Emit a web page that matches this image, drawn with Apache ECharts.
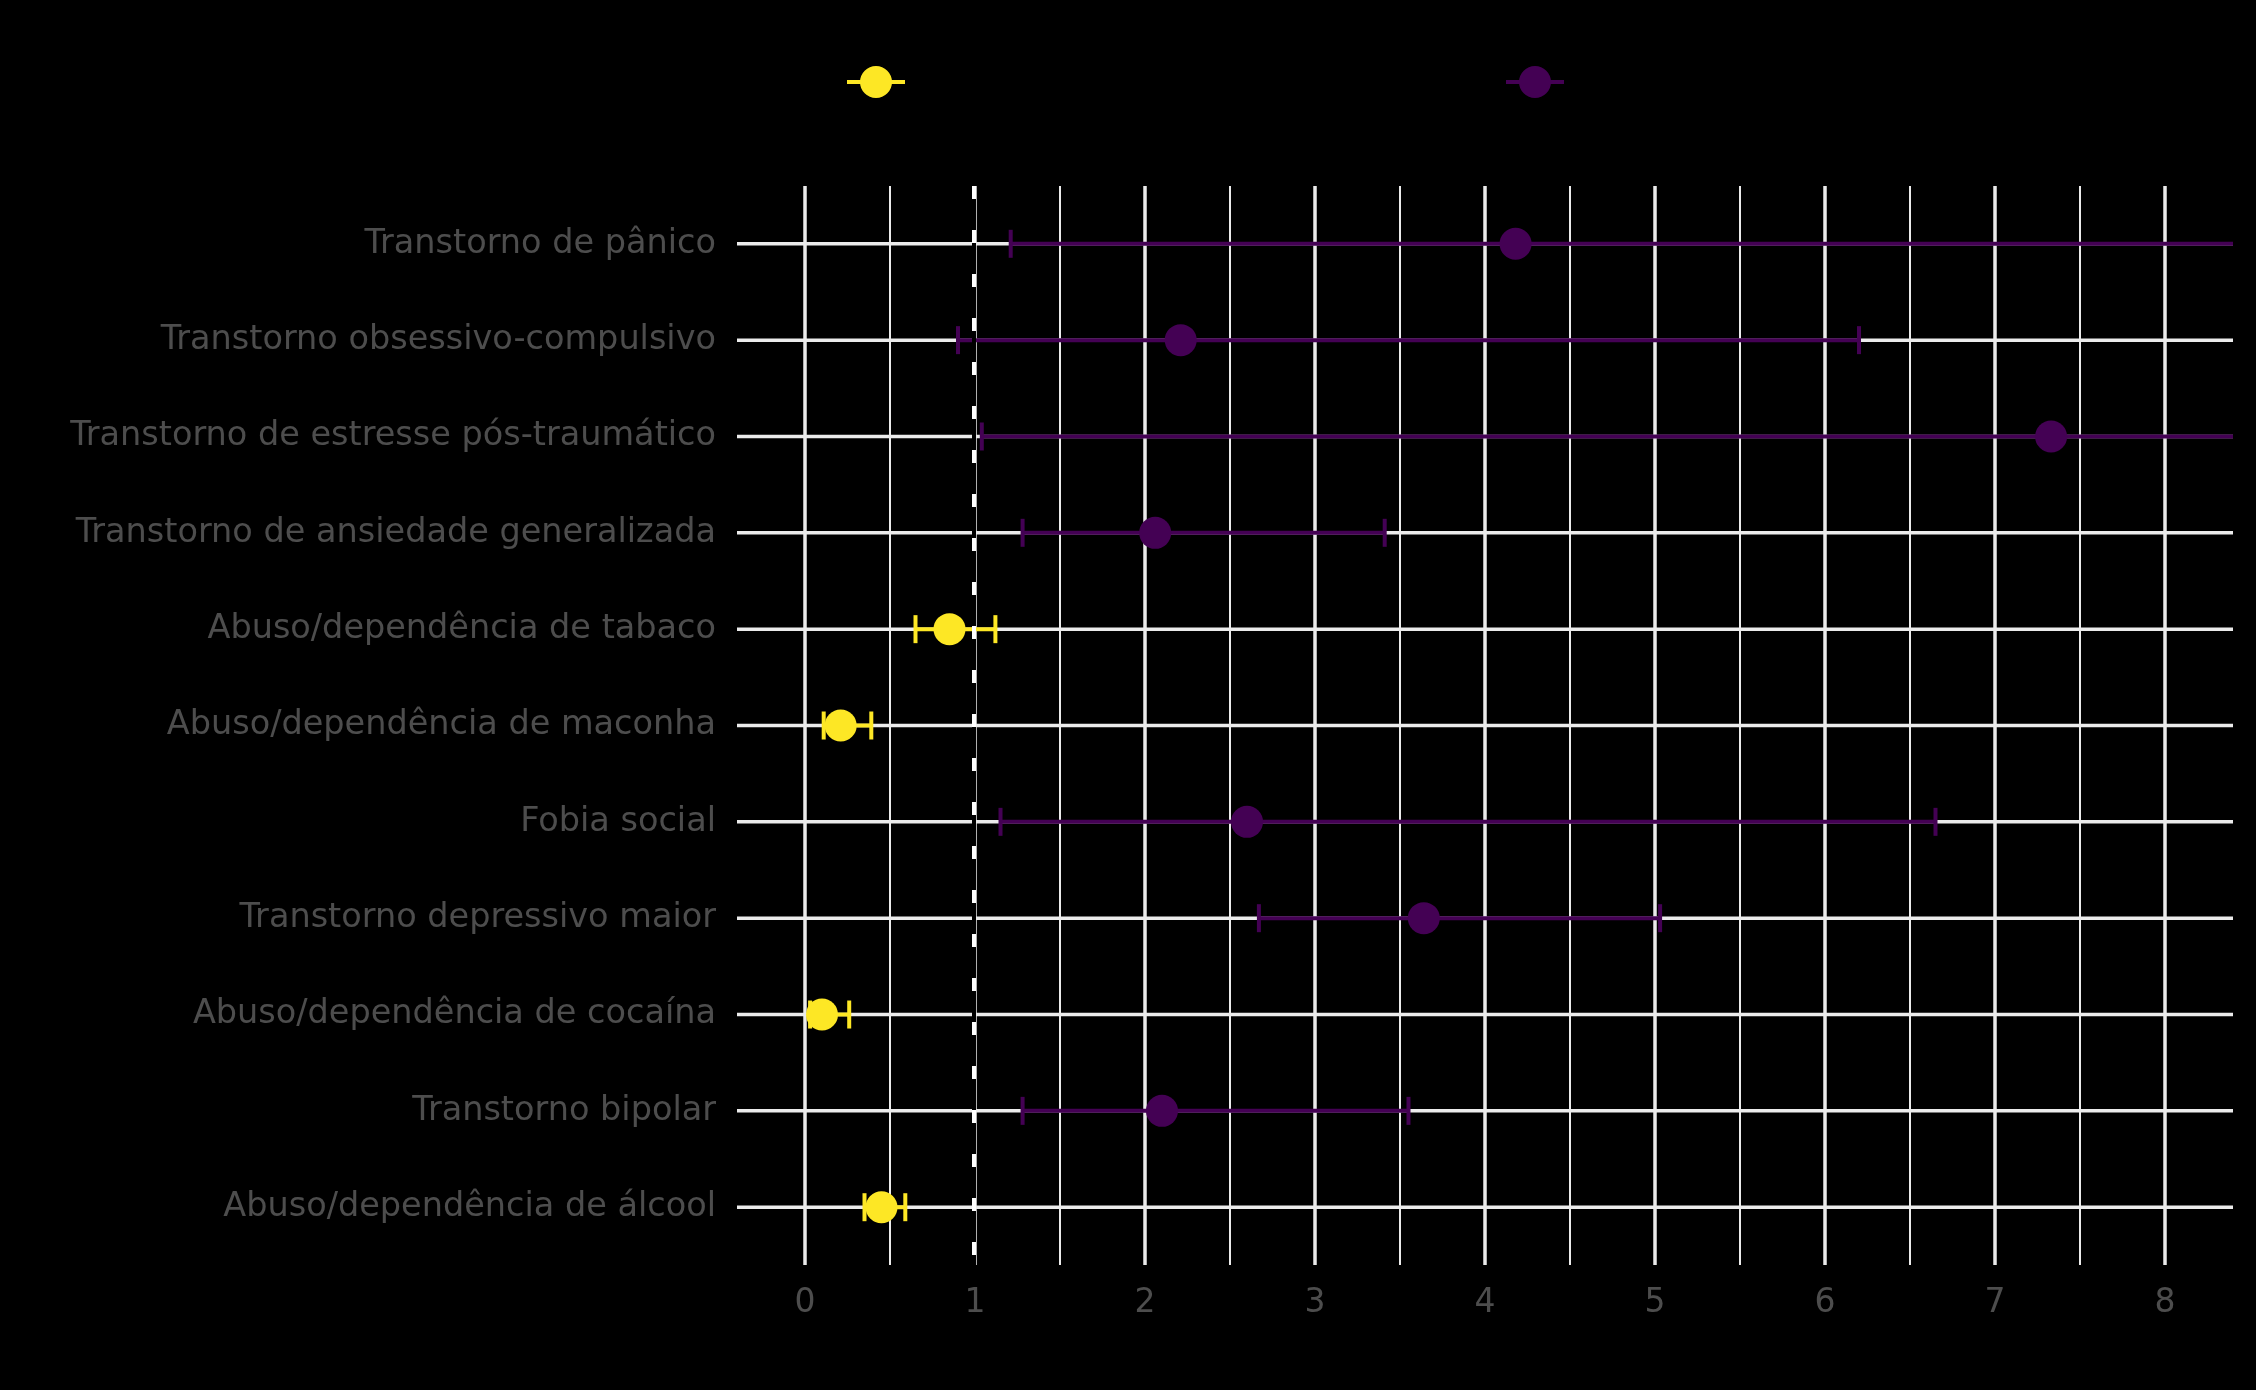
<!DOCTYPE html>
<html>
<head>
<meta charset="utf-8">
<script src="https://cdn.jsdelivr.net/npm/echarts@6/dist/echarts.min.js"></script>
<style>
  html, body { margin: 0; padding: 0; background: #000; }
  #chart { width: 2256px; height: 1390px; }
</style>
</head>
<body>
<div id="chart"></div>
<script>
// ---- Data (bottom to top) ----
const categories = [
  "Abuso/dependência de álcool",
  "Transtorno bipolar",
  "Abuso/dependência de cocaína",
  "Transtorno depressivo maior",
  "Fobia social",
  "Abuso/dependência de maconha",
  "Abuso/dependência de tabaco",
  "Transtorno de ansiedade generalizada",
  "Transtorno de estresse pós-traumático",
  "Transtorno obsessivo-compulsivo",
  "Transtorno de pânico"
];
const estimate = [0.45, 2.10, 0.10, 3.64, 2.60, 0.21, 0.85, 2.06, 7.33, 2.21, 4.18];
const lower    = [0.35, 1.28, 0.03, 2.67, 1.15, 0.11, 0.65, 1.28, 1.04, 0.90, 1.21];
const upper    = [0.59, 3.55, 0.26, 5.03, 6.65, 0.39, 1.12, 3.41, 52.0, 6.20, 14.5];

const xTickValues = [0, 1, 2, 3, 4, 5, 6, 7, 8];
const xMinorValues = [0.5, 1.5, 2.5, 3.5, 4.5, 5.5, 6.5, 7.5];
const refLineValue = 1;
const groupNames = ["Fator de proteção", "Fator de risco"];
const groupColors = ["#FDE725", "#440154"];

// ---- Build series data ----
const groupData = [[], []];
categories.forEach((c, i) => {
  const g = estimate[i] < 1 ? 0 : 1;
  groupData[g].push([i, estimate[i], lower[i], upper[i]]);
});
const yIdx = categories.map((c, i) => i);

const GRID_COLOR = "#ebebeb";

function renderCI(params, api) {
  const y = api.value(0), est = api.value(1), lo = api.value(2), hi = api.value(3);
  const cs = params.coordSys;
  const xmin = cs.x, xmax = cs.x + cs.width;
  const pLo = api.coord([lo, y]), pHi = api.coord([hi, y]), pE = api.coord([est, y]);
  const color = api.visual('color');
  const cy = pE[1];
  const children = [];
  const x1 = Math.max(pLo[0], xmin), x2 = Math.min(pHi[0], xmax);
  children.push({ type: 'line', shape: { x1: x1, y1: cy, x2: x2, y2: cy },
    style: { stroke: color, lineWidth: 4 } });
  const capH = 14;
  if (pLo[0] >= xmin) children.push({ type: 'line', shape: { x1: pLo[0], y1: cy - capH, x2: pLo[0], y2: cy + capH },
    style: { stroke: color, lineWidth: 4 } });
  if (pHi[0] <= xmax) children.push({ type: 'line', shape: { x1: pHi[0], y1: cy - capH, x2: pHi[0], y2: cy + capH },
    style: { stroke: color, lineWidth: 4 } });
  children.push({ type: 'circle', shape: { cx: pE[0], cy: cy, r: 16 }, style: { fill: color } });
  return { type: 'group', children: children };
}

const legendIcon = 'path://M0,14L58,14L58,18L0,18Z M13,16A16,16 0 1,1 45,16A16,16 0 1,1 13,16Z';

const chart = echarts.init(document.getElementById('chart'), null, { renderer: 'canvas' });
chart.setOption({
  backgroundColor: '#000',
  animation: false,
  textStyle: { fontFamily: 'DejaVu Sans' },
  legend: [
    { data: [groupNames[0]], left: 842, top: 61, itemWidth: 58, itemHeight: 32, icon: legendIcon,
      selectedMode: false, textStyle: { color: '#000', fontSize: 32 } },
    { data: [groupNames[1]], left: 1501, top: 61, itemWidth: 58, itemHeight: 32, icon: legendIcon,
      selectedMode: false, textStyle: { color: '#000', fontSize: 32 } }
  ],
  grid: { left: 737, right: 23, top: 186, bottom: 125, containLabel: false },
  xAxis: {
    type: 'value', min: -0.4, max: 8.4,
    axisLine: { show: false },
    splitLine: { show: false },
    axisTick: { show: true, customValues: xTickValues, length: 7, lineStyle: { color: '#333', width: 2 } },
    axisLabel: { customValues: xTickValues, color: '#4d4d4d', fontSize: 33, margin: 22, fontFamily: 'DejaVu Sans' }
  },
  yAxis: {
    type: 'value', min: -0.6, max: 10.6,
    axisLine: { show: false },
    splitLine: { show: false },
    axisTick: { show: true, customValues: yIdx, length: 7, lineStyle: { color: '#333', width: 2 } },
    axisLabel: { customValues: yIdx, color: '#4d4d4d', fontSize: 33.5, margin: 21, fontFamily: 'DejaVu Sans',
      padding: [9, 0, 0, 0],
      formatter: v => categories[Math.round(v)] }
  },
  series: [
    {
      type: 'custom', name: 'vgrid', silent: true, z: 1,
      data: xTickValues.map(v => [v, 1]).concat(xMinorValues.map(v => [v, 0])),
      encode: { x: 0, y: 1 },
      renderItem: (params, api) => {
        const cs = params.coordSys;
        const x = api.coord([api.value(0), 0])[0];
        const major = api.value(1) === 1;
        return { type: 'line', shape: { x1: x, y1: cs.y, x2: x, y2: cs.y + cs.height },
          style: { stroke: GRID_COLOR, lineWidth: major ? 3.5 : 2 } };
      }
    },
    {
      type: 'custom', name: 'hgrid', silent: true, z: 1,
      data: yIdx.map(i => [0, i]),
      encode: { x: 0, y: 1 },
      renderItem: (params, api) => {
        const cs = params.coordSys;
        const y = api.coord([0, api.value(1)])[1];
        return { type: 'line', shape: { x1: cs.x, y1: y, x2: cs.x + cs.width, y2: y },
          style: { stroke: GRID_COLOR, lineWidth: 3.5 } };
      }
    },
    {
      type: 'custom', name: groupNames[0], z: 3,
      itemStyle: { color: groupColors[0] },
      data: groupData[0], encode: { x: [1, 2, 3], y: 0 },
      renderItem: renderCI
    },
    {
      type: 'custom', name: groupNames[1], z: 3,
      itemStyle: { color: groupColors[1] },
      data: groupData[1], encode: { x: [1, 2, 3], y: 0 },
      renderItem: renderCI
    },
    {
      type: 'custom', name: 'ref', silent: true, z: 4,
      data: [[refLineValue, 0]], encode: { x: 0, y: 1 },
      renderItem: (params, api) => {
        const cs = params.coordSys;
        const x = api.coord([api.value(0), 0])[0] - 1;
        return { type: 'group', children: [
          { type: 'line', shape: { x1: x, y1: cs.y, x2: x, y2: cs.y + cs.height },
            style: { stroke: '#000', lineWidth: 4 } },
          { type: 'line', shape: { x1: x, y1: cs.y, x2: x, y2: cs.y + cs.height },
            style: { stroke: '#ffffff', lineWidth: 4, lineDash: [13, 31], lineDashOffset: 0 } }
        ] };
      }
    }
  ]
});
</script>
</body>
</html>
